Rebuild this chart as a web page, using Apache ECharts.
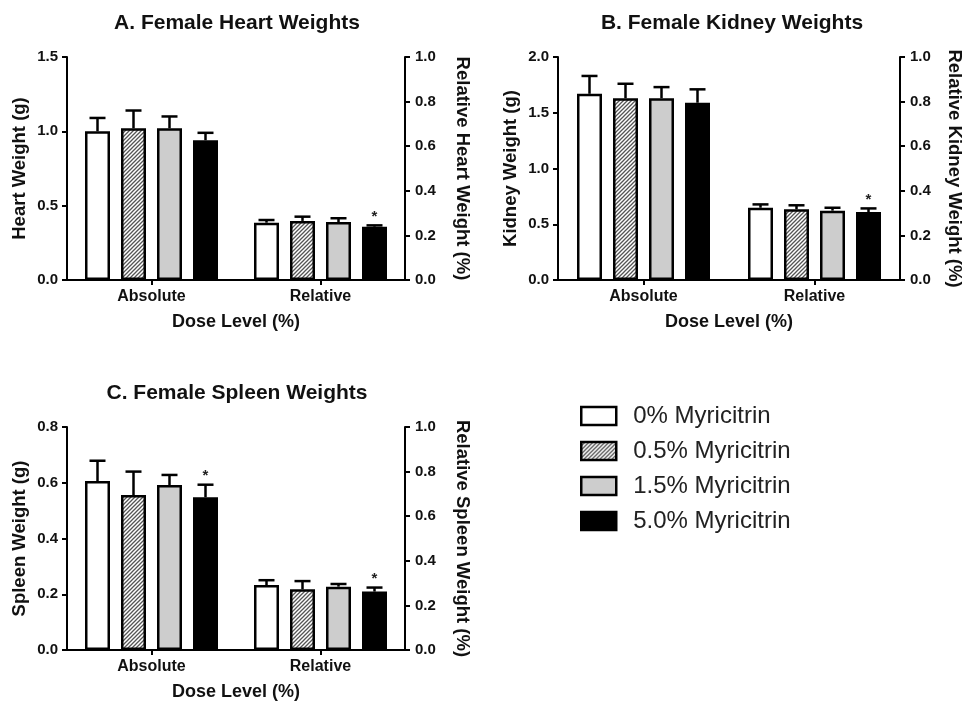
<!DOCTYPE html>
<html>
<head>
<meta charset="utf-8">
<script src="https://cdn.jsdelivr.net/npm/echarts@6/dist/echarts.min.js"></script>
<style>html,body{margin:0;padding:0;background:#fff;}#chart{width:967px;height:704px;}</style>
</head>
<body>
<div id="chart"></div>
<script>
// ---- Data ----
const categories = ['Absolute', 'Relative'];
const doses = ['0% Myricitrin', '0.5% Myricitrin', '1.5% Myricitrin', '5.0% Myricitrin'];

const heartAbs = [1.00, 1.02, 1.02, 0.94];
const heartAbsSD = [0.09, 0.12, 0.08, 0.05];
const heartRel = [0.257, 0.265, 0.260, 0.239];
const heartRelSD = [0.012, 0.019, 0.017, 0.006];
const heartAbsSig = [0, 0, 0, 0];
const heartRelSig = [0, 0, 0, 1];

const kidneyAbs = [1.67, 1.63, 1.63, 1.59];
const kidneyAbsSD = [0.16, 0.13, 0.10, 0.12];
const kidneyRel = [0.324, 0.317, 0.311, 0.305];
const kidneyRelSD = [0.015, 0.018, 0.013, 0.016];
const kidneyAbsSig = [0, 0, 0, 0];
const kidneyRelSig = [0, 0, 0, 1];

const spleenAbs = [0.606, 0.556, 0.592, 0.548];
const spleenAbsSD = [0.073, 0.084, 0.036, 0.045];
const spleenRel = [0.291, 0.272, 0.284, 0.262];
const spleenRelSD = [0.022, 0.037, 0.012, 0.018];
const spleenAbsSig = [0, 0, 0, 1];
const spleenRelSig = [0, 0, 0, 1];

const leftTicksMax = [1.5, 2.0, 0.8];
const leftTicksInterval = [0.5, 0.5, 0.2];
const rightTicksMax = [1.0, 1.0, 1.0];
const rightTicksInterval = [0.2, 0.2, 0.2];

// ---- Style ----
const FONT = '"Liberation Sans", Arial, Helvetica, sans-serif';
const BAR_W = 25;
const BAR_GAP = 11;

function makeHatch() {
  const s = 4;
  const c = document.createElement('canvas');
  c.width = s; c.height = s;
  const g = c.getContext('2d');
  g.fillStyle = '#ffffff';
  g.fillRect(0, 0, s, s);
  g.strokeStyle = '#555555';
  g.lineWidth = 1.3;
  g.beginPath();
  g.moveTo(0, s); g.lineTo(s, 0);
  g.moveTo(-1, 1); g.lineTo(1, -1);
  g.moveTo(s - 1, s + 1); g.lineTo(s + 1, s - 1);
  g.stroke();
  return c;
}
const hatch = makeHatch();
const fills = ['#ffffff', { image: hatch, repeat: 'repeat' }, '#cdcdcd', '#000000'];

const panels = [
  { title: 'A. Female Heart Weights', yName: 'Heart Weight (g)', y2Name: 'Relative Heart Weight (%)',
    abs: heartAbs, absSD: heartAbsSD, rel: heartRel, relSD: heartRelSD, absSig: heartAbsSig, relSig: heartRelSig,
    grid: { left: 67, top: 57, width: 338, height: 223 }, titlePos: [232, 8], y2Gap: 48 },
  { title: 'B. Female Kidney Weights', yName: 'Kidney Weight (g)', y2Name: 'Relative Kidney Weight (%)',
    abs: kidneyAbs, absSD: kidneyAbsSD, rel: kidneyRel, relSD: kidneyRelSD, absSig: kidneyAbsSig, relSig: kidneyRelSig,
    grid: { left: 558, top: 57, width: 342, height: 223 }, titlePos: [727, 8], y2Gap: 45 },
  { title: 'C. Female Spleen Weights', yName: 'Spleen Weight (g)', y2Name: 'Relative Spleen Weight (%)',
    abs: spleenAbs, absSD: spleenAbsSD, rel: spleenRel, relSD: spleenRelSD, absSig: spleenAbsSig, relSig: spleenRelSig,
    grid: { left: 67, top: 427, width: 338, height: 223 }, titlePos: [232, 378], y2Gap: 48 }
];

const title = [], grid = [], xAxis = [], yAxis = [], series = [];

function errRender(params, api) {
  const cat = api.value(0);
  const mean = api.value(1);
  const sd = api.value(2);
  const d = api.value(3);
  const sig = api.value(4);
  const off = (d - 1.5) * (BAR_W + BAR_GAP);
  const base = api.coord([cat, mean]);
  const top = api.coord([cat, mean + sd]);
  const x = base[0] + off;
  const children = [
    { type: 'line', shape: { x1: x, y1: base[1], x2: x, y2: top[1] }, style: { stroke: '#000', lineWidth: 2.5 } },
    { type: 'line', shape: { x1: x - 8, y1: top[1], x2: x + 8, y2: top[1] }, style: { stroke: '#000', lineWidth: 2.5 } }
  ];
  if (sig) {
    children.push({ type: 'text', x: x, y: top[1] - 1,
      style: { text: '*', font: 'bold 15px ' + FONT, fill: '#222', align: 'center', verticalAlign: 'bottom' } });
  }
  return { type: 'group', children: children };
}

panels.forEach((p, k) => {
  title.push({ text: p.title, left: p.titlePos[0], top: p.titlePos[1], textAlign: 'center',
    textStyle: { fontFamily: FONT, fontWeight: 'bold', fontSize: 21, color: '#111' } });
  grid.push(Object.assign({ containLabel: false }, p.grid));
  const axisLine = { show: true, lineStyle: { color: '#000', width: 2 } };
  xAxis.push({
    type: 'category', gridIndex: k, data: categories,
    axisLine: axisLine, axisTick: { show: true, alignWithLabel: true, length: 5, lineStyle: { color: '#000', width: 2 } },
    axisLabel: { fontFamily: FONT, fontWeight: 'bold', fontSize: 16, color: '#111', margin: 9 },
    name: 'Dose Level (%)', nameLocation: 'middle', nameGap: 33,
    nameTextStyle: { fontFamily: FONT, fontWeight: 'bold', fontSize: 18, color: '#111' },
    splitLine: { show: false }
  });
  xAxis.push({ type: 'category', gridIndex: k, data: categories, show: false });
  yAxis.push({
    type: 'value', gridIndex: k, min: 0, max: leftTicksMax[k], interval: leftTicksInterval[k],
    axisLine: axisLine, axisTick: { show: true, length: 5, lineStyle: { color: '#000', width: 2 } },
    axisLabel: { fontFamily: FONT, fontWeight: 'bold', fontSize: 15, color: '#111', margin: 9,
      formatter: v => v.toFixed(1) },
    splitLine: { show: false },
    name: p.yName, nameLocation: 'middle', nameGap: 38, nameRotate: 90,
    nameTextStyle: { fontFamily: FONT, fontWeight: 'bold', fontSize: 18.5, color: '#111' }
  });
  yAxis.push({
    type: 'value', gridIndex: k, position: 'right', min: 0, max: rightTicksMax[k], interval: rightTicksInterval[k],
    axisLine: axisLine, axisTick: { show: true, length: 5, lineStyle: { color: '#000', width: 2 } },
    axisLabel: { fontFamily: FONT, fontWeight: 'bold', fontSize: 15, color: '#111', margin: 10,
      formatter: v => v.toFixed(1) },
    splitLine: { show: false },
    name: p.y2Name, nameLocation: 'middle', nameGap: p.y2Gap, nameRotate: -90,
    nameTextStyle: { fontFamily: FONT, fontWeight: 'bold', fontSize: 18.5, color: '#111' }
  });

  const absErr = [], relErr = [];
  doses.forEach((name, d) => {
    const itemStyle = { color: fills[d], borderColor: '#000', borderWidth: 2.5 };
    series.push({ type: 'bar', name: name, xAxisIndex: 2 * k, yAxisIndex: 2 * k,
      data: [p.abs[d], '-'], barWidth: BAR_W, barGap: (BAR_GAP / BAR_W * 100) + '%',
      itemStyle: itemStyle, emphasis: { disabled: true }, z: 2 });
    series.push({ type: 'bar', name: name, xAxisIndex: 2 * k + 1, yAxisIndex: 2 * k + 1,
      data: ['-', p.rel[d]], barWidth: BAR_W, barGap: (BAR_GAP / BAR_W * 100) + '%',
      itemStyle: itemStyle, emphasis: { disabled: true }, z: 2 });
    absErr.push([0, p.abs[d], p.absSD[d], d, p.absSig[d]]);
    relErr.push([1, p.rel[d], p.relSD[d], d, p.relSig[d]]);
  });
  series.push({ type: 'custom', xAxisIndex: 2 * k, yAxisIndex: 2 * k, data: absErr, renderItem: errRender, z: 1, silent: true });
  series.push({ type: 'custom', xAxisIndex: 2 * k + 1, yAxisIndex: 2 * k + 1, data: relErr, renderItem: errRender, z: 1, silent: true });
});

const chart = echarts.init(document.getElementById('chart'), null, { renderer: 'canvas' });
chart.setOption({
  animation: false,
  backgroundColor: '#fff',
  title: title,
  grid: grid,
  xAxis: xAxis,
  yAxis: yAxis,
  legend: {
    data: doses, orient: 'vertical', left: 580, top: 404, padding: 0,
    itemWidth: 35, itemHeight: 18, itemGap: 11, icon: 'rect',
    itemStyle: { borderColor: '#000', borderWidth: 2.5 },
    textStyle: { fontFamily: FONT, fontSize: 24, color: '#222', padding: [0, 0, 0, 12] },
    selectedMode: false
  },
  series: series
});
</script>
</body>
</html>
